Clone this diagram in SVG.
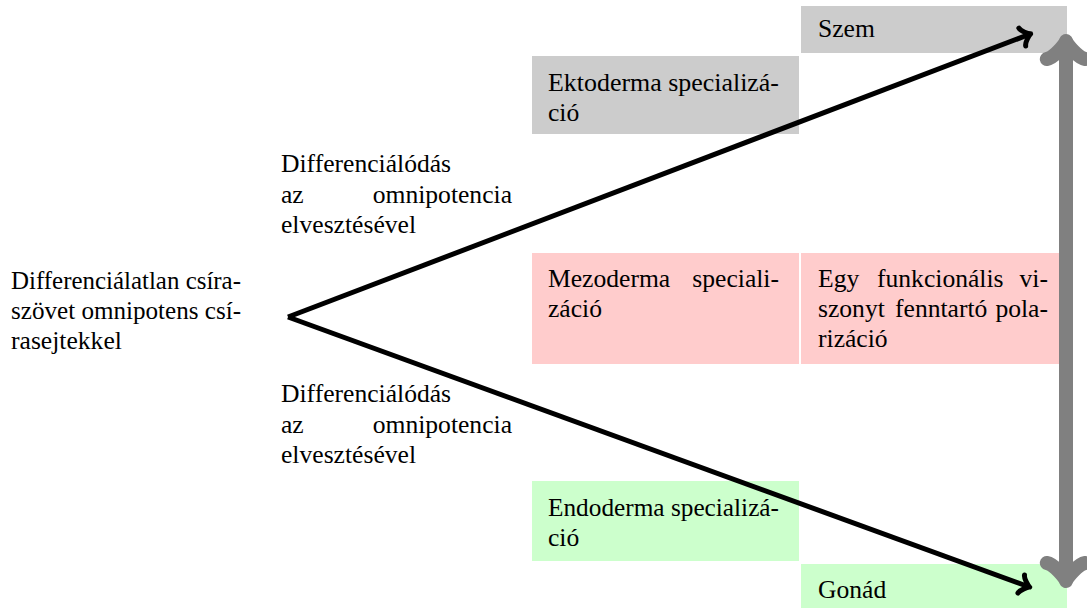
<svg xmlns="http://www.w3.org/2000/svg" width="1087" height="608" viewBox="0 0 1087 608">
<style>
  text { font-family: "Liberation Serif", "Times New Roman", serif; font-size: 25.6px; fill: #000; }
  .e { text-anchor: end; }
  .gray { fill: #cccccc; }
  .pink { fill: #ffcccc; }
  .green { fill: #ccffcc; }
  .blk { stroke: #000; stroke-width: 5; fill: none; stroke-linecap: butt; }
  .gr { stroke: #808080; stroke-width: 14; fill: none; stroke-linecap: round; stroke-linejoin: round; }
</style>
<defs>
  <marker id="tip" markerUnits="userSpaceOnUse" orient="auto" overflow="visible" refX="0" refY="0" markerWidth="1" markerHeight="1">
    <path d="M -7.2 -9.6 C -6.6 -6 0 -0.6 1.8 0 C 0 0.6 -6.6 6 -7.2 9.6" stroke="#000" stroke-width="5" fill="none" stroke-linecap="round" stroke-linejoin="round"/>
  </marker>
</defs>
<rect width="1087" height="608" fill="#fff"/>

<g id="n-szem">
  <rect class="gray" x="801" y="6" width="266" height="47"/>
  <text x="818" y="37">Szem</text>
</g>
<g id="n-ekto">
  <rect class="gray" x="532" y="56" width="267" height="78"/>
  <text x="548" y="91" textLength="231" lengthAdjust="spacingAndGlyphs">Ektoderma specializá-</text>
  <text x="548" y="121">ció</text>
</g>
<g id="n-mezo">
  <rect class="pink" x="532" y="253" width="267" height="111"/>
  <text x="548" y="287">Mezoderma</text>
  <text class="e" x="779" y="287">speciali-</text>
  <text x="548" y="317">záció</text>
</g>
<g id="n-polar">
  <rect class="pink" x="801" y="253" width="266" height="111"/>
  <text x="818" y="287">Egy</text>
  <text x="877" y="287">funkcionális</text>
  <text class="e" x="1048" y="287">vi-</text>
  <text x="818" y="317">szonyt</text>
  <text x="895" y="317">fenntartó</text>
  <text class="e" x="1048" y="317">pola-</text>
  <text x="818" y="347">rizáció</text>
</g>
<g id="n-endo">
  <rect class="green" x="532" y="481" width="267" height="80"/>
  <text x="548" y="516" textLength="231" lengthAdjust="spacingAndGlyphs">Endoderma specializá-</text>
  <text x="548" y="546">ció</text>
</g>
<g id="n-gonad">
  <rect class="green" x="801" y="564" width="266" height="44"/>
  <text x="818" y="598">Gonád</text>
</g>
<g id="n-start">
  <text x="11" y="289" textLength="230" lengthAdjust="spacingAndGlyphs">Differenciálatlan csíra-</text>
  <text x="11" y="319" textLength="230" lengthAdjust="spacingAndGlyphs">szövet omnipotens csí-</text>
  <text x="11" y="349">rasejtekkel</text>
</g>
<g id="l-upper">
  <text x="281" y="172">Differenciálódás</text>
  <text x="281" y="203">az</text>
  <text class="e" x="512" y="203">omnipotencia</text>
  <text x="281" y="233">elvesztésével</text>
</g>
<g id="l-lower">
  <text x="281" y="402">Differenciálódás</text>
  <text x="281" y="433">az</text>
  <text class="e" x="512" y="433">omnipotencia</text>
  <text x="281" y="463">elvesztésével</text>
</g>

<g id="connectors">
  <line class="blk" x1="288" y1="317" x2="1029" y2="34.5" marker-end="url(#tip)"/>
  <line class="blk" x1="288" y1="317" x2="1028" y2="586.5" marker-end="url(#tip)"/>
  <line class="gr" x1="1066" y1="46" x2="1066" y2="576" stroke-linecap="butt"/>
  <path class="gr" d="M1085.2,59 C1078,57.8 1067.2,44.6 1066,41 C1064.8,44.6 1054,57.8 1046.8,59"/>
  <path class="gr" d="M1085.2,563 C1078,564.2 1067.2,577.4 1066,581 C1064.8,577.4 1054,564.2 1046.8,563"/>
</g>
</svg>
